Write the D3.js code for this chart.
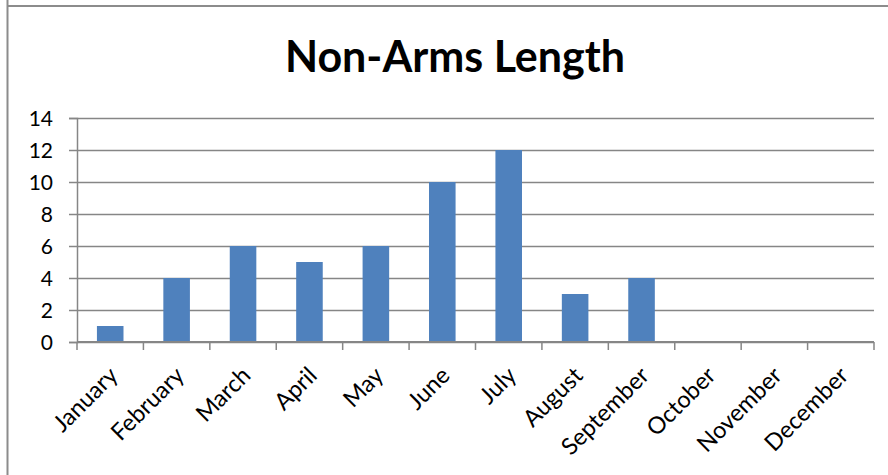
<!DOCTYPE html>
<html><head><meta charset="utf-8">
<script src="https://cdn.jsdelivr.net/npm/d3@7"></script>
<style>html,body{margin:0;padding:0;background:#fff;}svg{display:block;}</style>
</head><body>
<script>
const months = ["January","February","March","April","May","June","July","August","September","October","November","December"];
const values = [1,4,6,5,6,10,12,3,4,0,0,0];
const yTicks = [0,2,4,6,8,10,12,14];
const title = "Non-Arms Length";

(function(){
const W = 888, H = 475;
const svg = d3.select("body").append("svg").attr("width", W).attr("height", H);
const font = "Lato, 'Open Sans', sans-serif";

// frame
svg.append("line").attr("x1",7.5).attr("x2",7.5).attr("y1",0).attr("y2",H).attr("stroke","#8c8c8c").attr("stroke-width",2);
svg.append("line").attr("x1",7).attr("x2",W).attr("y1",6).attr("y2",6).attr("stroke","#8c8c8c").attr("stroke-width",2);

const pLeft = 77, pRight = 874, pTop = 118, pBottom = 342;
const x = d3.scaleBand().domain(months).range([pLeft, pRight]).padding(0);
const y = d3.scaleLinear().domain([0,14]).range([pBottom, pTop]);

// gridlines
const gy = svg.append("g").attr("transform",`translate(${pLeft},0)`)
  .call(d3.axisLeft(y).tickValues(yTicks).tickSize(-(pRight-pLeft)).tickFormat(""));
gy.select(".domain").remove();
gy.selectAll("line").attr("stroke","#868686").attr("stroke-width",1.5);
// left tick marks
const gy2 = svg.append("g").attr("transform",`translate(${pLeft},0)`)
  .call(d3.axisLeft(y).tickValues(yTicks).tickSize(8).tickPadding(16));
gy2.select(".domain").attr("stroke","#868686").attr("stroke-width",1.5);
gy2.selectAll("line").attr("stroke","#868686").attr("stroke-width",1.5);
gy2.selectAll("text").attr("font-family",font).attr("font-size",21).attr("fill","#000").attr("dy","0.35em");

// bars
const bw = x.bandwidth()*0.4;
svg.append("g").selectAll("rect").data(values).join("rect")
  .attr("x",(d,i)=>x(months[i])+x.bandwidth()/2-bw/2)
  .attr("width",bw)
  .attr("y",d=>y(d))
  .attr("height",d=>y(0)-y(d))
  .attr("fill","#4F81BD");

// x axis
const tickPos = months.map(m=>x(m)).concat([pRight]);
svg.append("line").attr("x1",pLeft).attr("x2",pRight).attr("y1",pBottom).attr("y2",pBottom).attr("stroke","#868686").attr("stroke-width",2);
svg.append("g").selectAll("line").data(tickPos).join("line")
  .attr("x1",d=>d).attr("x2",d=>d).attr("y1",pBottom).attr("y2",pBottom+8)
  .attr("stroke","#868686").attr("stroke-width",1.5);
svg.append("g").selectAll("text").data(months).join("text")
  .attr("transform",d=>`translate(${x(d)+x.bandwidth()/2+9},${pBottom+35}) rotate(-45)`)
  .attr("text-anchor","end")
  .attr("font-family",font).attr("font-size",23.5).attr("fill","#000")
  .text(d=>d);

// title
svg.append("text").attr("x",455).attr("y",72).attr("text-anchor","middle")
  .attr("font-family",font).attr("font-weight","bold").attr("font-size",43).attr("fill","#000")
  .text(title);
})();
</script>
</body></html>
